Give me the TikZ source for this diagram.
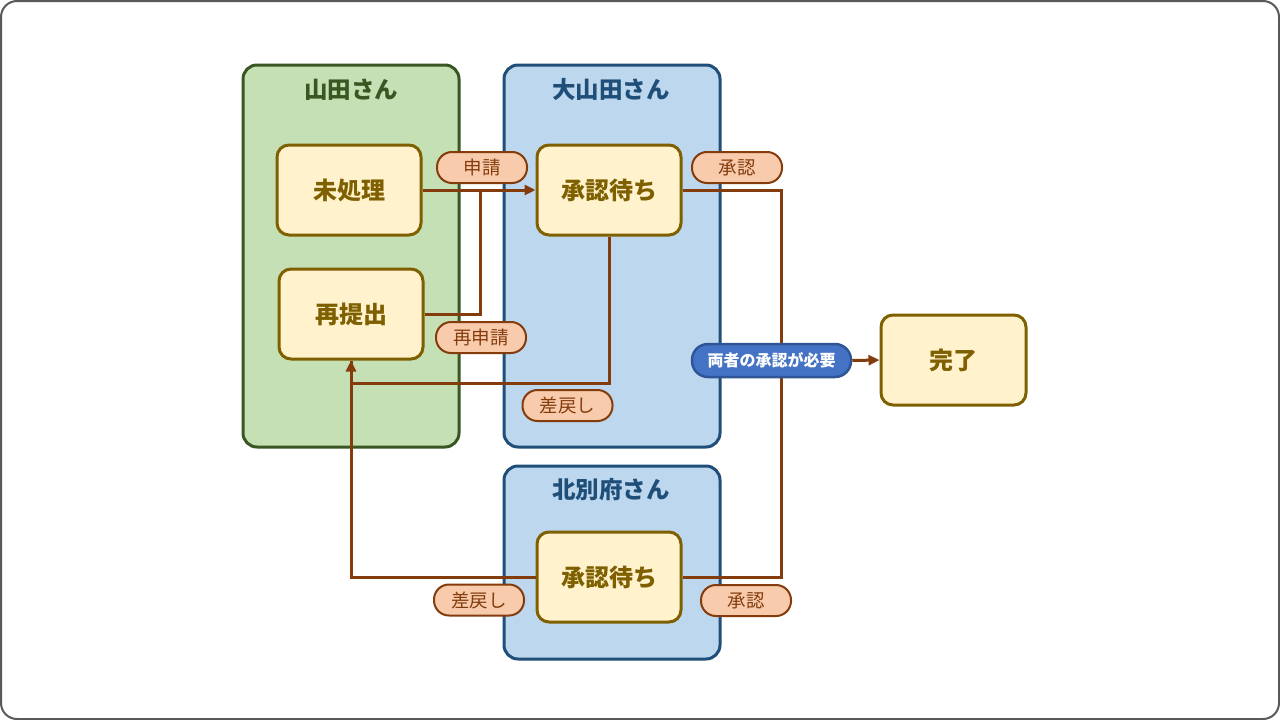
\documentclass[tikz,border=0pt]{standalone}
\usepackage{fontspec}
\setmainfont{Noto Sans CJK JP}
\newfontfamily\cjk{Noto Sans CJK JP}
\usetikzlibrary{arrows.meta}
\definecolor{frameC}{HTML}{595959}
\definecolor{greenF}{HTML}{C5E0B4}
\definecolor{greenD}{HTML}{385723}
\definecolor{blueF}{HTML}{BDD7EE}
\definecolor{blueD}{HTML}{1F4E79}
\definecolor{stateF}{HTML}{FFF2CC}
\definecolor{stateD}{HTML}{7F6000}
\definecolor{flowC}{HTML}{843C0C}
\definecolor{tagF}{HTML}{F8CBAD}
\definecolor{noteF}{HTML}{4472C4}
\definecolor{noteD}{HTML}{2F5597}
\tikzset{
  lanebox/.style={draw=#1, line width=3pt, rounded corners=14pt},
  lanetitle/.style={font=\cjk\bfseries\fontsize{23.5}{26}\selectfont, text=#1, inner sep=0pt},
  statebox/.style={draw=stateD, fill=stateF, line width=3pt, rounded corners=12pt,
    minimum width=144pt, minimum height=90pt, inner sep=0pt,
    font=\cjk\bfseries\fontsize{24}{26}\selectfont, text=stateD},
  tagbox/.style={draw=flowC, fill=tagF, line width=2pt, rounded corners=15pt,
    minimum width=90pt, minimum height=31pt, inner sep=0pt,
    font=\cjk\fontsize{18.5}{20}\selectfont, text=flowC},
  notebox/.style={draw=noteD, fill=noteF, line width=2.5pt, rounded corners=16pt,
    minimum width=159pt, minimum height=33pt, inner sep=0pt,
    font=\cjk\bfseries\fontsize{16}{18}\selectfont, text=white},
  flow/.style={draw=flowC, line width=3pt},
  tip/.style={-{Triangle[length=11pt,width=10pt]}},
}
\begin{document}
\begin{tikzpicture}[x=1pt,y=-1pt]
\useasboundingbox (0,0) rectangle (1280,720);
\draw[frameC, line width=2pt, rounded corners=16pt, fill=white] (1,1) rectangle (1279,719);
% lanes
\draw[lanebox=greenD, fill=greenF] (243,65) rectangle (459,447);
\draw[lanebox=blueD, fill=blueF] (504,65) rectangle (720,447);
\draw[lanebox=blueD, fill=blueF] (504,466) rectangle (720,659);
\node[lanetitle=greenD] (t1) at (351,90) {山田さん};
\node[lanetitle=blueD] (t2) at (611,90) {大山田さん};
\node[lanetitle=blueD] (t3) at (611,490) {北別府さん};
% states
\node[statebox] (mi) at (349,190) {未処理};
\node[statebox] (re) at (351,314) {再提出};
\node[statebox] (a1) at (609,190) {承認待ち};
\node[statebox] (a2) at (609,577) {承認待ち};
\node[statebox, minimum width=145pt] (done) at (953.5,360) {完了};
% helper coordinates
\coordinate (j1) at (480,190);
\coordinate (r1) at (351,383);
\coordinate (v1) at (781,577);
% connectors
\draw[flow, tip] (mi.east) -- (a1.west);
\draw[flow] (re.east) -| (j1);
\draw[flow, tip] (a1.south) |- (r1) -- (re.south);
\draw[flow] (a2.west) -| (re.south);
\draw[flow] (a1.east) -| (v1) -- (a2.east);
% labels
\node[tagbox] (l1) at (482,167.5) {申請};
\node[tagbox] (l2) at (737,167.5) {承認};
\node[tagbox] (l3) at (481,337.5) {再申請};
\node[tagbox] (l4) at (567.5,405.5) {差戻し};
\node[tagbox] (l5) at (479,600) {差戻し};
\node[tagbox] (l6) at (746,600.5) {承認};
\node[notebox] (need) at (771.5,360.5) {両者の承認が必要};
\draw[flow, tip] (need.east) -- (done.west);
\end{tikzpicture}
\end{document}
